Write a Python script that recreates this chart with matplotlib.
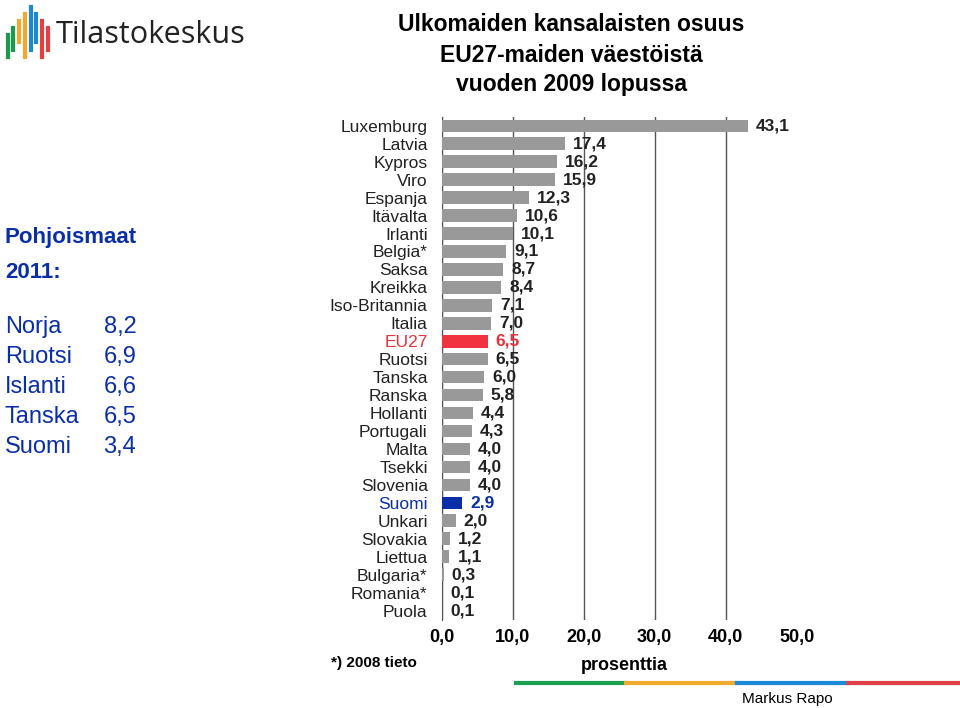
import matplotlib
matplotlib.use("Agg")
import matplotlib.pyplot as plt
from matplotlib.transforms import offset_copy

countries = ["Luxemburg","Latvia","Kypros","Viro","Espanja","Itävalta","Irlanti","Belgia*","Saksa","Kreikka",
             "Iso-Britannia","Italia","EU27","Ruotsi","Tanska","Ranska","Hollanti","Portugali","Malta","Tsekki",
             "Slovenia","Suomi","Unkari","Slovakia","Liettua","Bulgaria*","Romania*","Puola"]
values = [43.1,17.4,16.2,15.9,12.3,10.6,10.1,9.1,8.7,8.4,7.1,7.0,6.5,6.5,6.0,5.8,4.4,4.3,4.0,4.0,4.0,2.9,2.0,1.2,1.1,0.3,0.1,0.1]
ticks = [0,10,20,30,40,50]
nordic = [("Norja","8,2"),("Ruotsi","6,9"),("Islanti","6,6"),("Tanska","6,5"),("Suomi","3,4")]

plt.rcParams["font.family"] = "Liberation Sans"
fig = plt.figure(figsize=(9.6,7.08), dpi=100)
ax = fig.add_axes([0.46, 0.125, 0.37, 0.71])
n = len(countries)
ys = list(range(n))
colors = []
tcol = []
for c in countries:
    if c == "EU27":
        colors.append("#f0333f"); tcol.append("#e8323c")
    elif c == "Suomi":
        colors.append("#0a2ea8"); tcol.append("#0a2ea8")
    else:
        colors.append("#999999"); tcol.append("#222222")
ax.barh(ys, values, height=0.7, color=colors, zorder=3)
ax.set_ylim(n-0.5, -0.5)
ax.set_xlim(0, 50)
ax.set_xticks(ticks)
ax.set_xticklabels([f"{t},0" for t in ticks], fontsize=13, fontweight="bold")
ax.set_yticks(ys)
ax.set_yticklabels(countries, fontsize=12.5)
for lab, col in zip(ax.get_yticklabels(), tcol):
    lab.set_color(col)
ax.tick_params(length=0, pad=10)
ax.tick_params(axis="x", pad=7)
ax.grid(axis="x", color="#555555", lw=1, zorder=0)
ax.get_xgridlines()[-1].set_visible(False)
for s in ["top","right","bottom"]:
    ax.spines[s].set_visible(False)
ax.spines["left"].set_color("#555555")
tr = offset_copy(ax.transData, fig=fig, x=8, y=0, units="dots")
for y, v, col in zip(ys, values, tcol):
    ax.text(v, y, f"{v:.1f}".replace(".", ","), transform=tr, va="center", ha="left",
            fontsize=12.5, fontweight="bold", color=col)

fig.text(0.595, 0.965, "Ulkomaiden kansalaisten osuus", ha="center", va="center", fontsize=16.5, fontweight="bold")
fig.text(0.595, 0.922, "EU27-maiden väestöistä", ha="center", va="center", fontsize=16.5, fontweight="bold")
fig.text(0.595, 0.880, "vuoden 2009 lopussa", ha="center", va="center", fontsize=16.5, fontweight="bold")

fig.text(0.005, 0.665, "Pohjoismaat", fontsize=16, fontweight="bold", color="#0a2ea8", va="center")
fig.text(0.005, 0.615, "2011:", fontsize=16, fontweight="bold", color="#0a2ea8", va="center")
for i, (nm, v) in enumerate(nordic):
    yy = 0.538 - i*0.0425
    fig.text(0.005, yy, nm, fontsize=17, color="#0a2ea8", va="center")
    fig.text(0.142, yy, v, fontsize=17, color="#0a2ea8", va="center", ha="right")

fig.text(0.058, 0.95, "Tilastokeskus", fontsize=22, va="center", family="Open Sans", color="#222222")
lc = ["#1a9a4a","#1a9a4a","#f0a830","#f0a830","#1a8ad0","#1a8ad0","#e0403f","#e0403f"]
for i, c in enumerate(lc):
    fig.add_artist(plt.Line2D([0.008+i*0.006, 0.008+i*0.006], [0.92+0.01*(i%3), 0.99-0.01*abs(i-4)], color=c, lw=3))

fig.text(0.345, 0.063, "*) 2008 tieto", fontsize=11, fontweight="bold", va="center")
fig.text(0.65, 0.06, "prosenttia", fontsize=13, fontweight="bold", ha="center", va="center")
bc = ["#1aa050","#f0aa30","#1a8ad8","#e0404a"]
for i, c in enumerate(bc):
    x0 = 0.537 + i*0.1155
    fig.add_artist(plt.Line2D([x0, x0+0.1155], [0.035, 0.035], color=c, lw=3))
fig.text(0.82, 0.013, "Markus Rapo", fontsize=11, ha="center", va="center")
fig.savefig("out.png", dpi=100)
